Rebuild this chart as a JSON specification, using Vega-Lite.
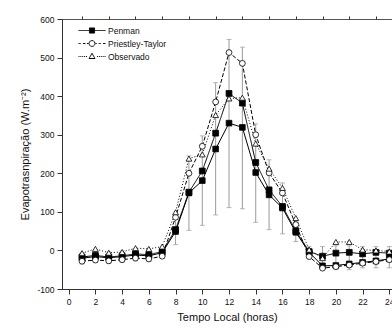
{
  "$schema": "https://vega.github.io/schema/vega-lite/v6.json",
  "width": 330,
  "height": 270,
  "autosize": {"type": "none"},
  "padding": {"left": 62, "top": 19, "right": 0, "bottom": 40},
  "background": "white",
  "config": {
    "font": "Liberation Sans",
    "view": {"stroke": "#555", "strokeWidth": 1},
    "axis": {
      "grid": false,
      "domainColor": "#333",
      "tickColor": "#333",
      "labelColor": "#111",
      "titleColor": "#111",
      "labelFont": "Liberation Sans",
      "titleFont": "Liberation Sans",
      "labelFontSize": 8.5,
      "titleFontSize": 11,
      "titleFontWeight": "normal",
      "labelFlush": false,
      "labelOverlap": false
    }
  },
  "resolve": {"axis": {"x": "independent", "y": "independent"}},
  "datasets": {
    "main": [
      {"hour": 1, "serie": "Penman", "value": -17},
      {"hour": 2, "serie": "Penman", "value": -13},
      {"hour": 3, "serie": "Penman", "value": -17},
      {"hour": 4, "serie": "Penman", "value": -14},
      {"hour": 5, "serie": "Penman", "value": -9},
      {"hour": 6, "serie": "Penman", "value": -11},
      {"hour": 7, "serie": "Penman", "value": -3},
      {"hour": 8, "serie": "Penman", "value": 54},
      {"hour": 9, "serie": "Penman", "value": 151},
      {"hour": 10, "serie": "Penman", "value": 206},
      {"hour": 11, "serie": "Penman", "value": 304},
      {"hour": 12, "serie": "Penman", "value": 407},
      {"hour": 13, "serie": "Penman", "value": 382},
      {"hour": 14, "serie": "Penman", "value": 228},
      {"hour": 15, "serie": "Penman", "value": 157},
      {"hour": 16, "serie": "Penman", "value": 114},
      {"hour": 17, "serie": "Penman", "value": 51},
      {"hour": 18, "serie": "Penman", "value": -3},
      {"hour": 19, "serie": "Penman", "value": -15},
      {"hour": 20, "serie": "Penman", "value": -7},
      {"hour": 21, "serie": "Penman", "value": -5},
      {"hour": 22, "serie": "Penman", "value": -9},
      {"hour": 23, "serie": "Penman", "value": -5},
      {"hour": 24, "serie": "Penman", "value": -7},
      {"hour": 1, "serie": "Priestley-Taylor", "value": -28},
      {"hour": 2, "serie": "Priestley-Taylor", "value": -25},
      {"hour": 3, "serie": "Priestley-Taylor", "value": -27},
      {"hour": 4, "serie": "Priestley-Taylor", "value": -24},
      {"hour": 5, "serie": "Priestley-Taylor", "value": -20},
      {"hour": 6, "serie": "Priestley-Taylor", "value": -22},
      {"hour": 7, "serie": "Priestley-Taylor", "value": -15},
      {"hour": 8, "serie": "Priestley-Taylor", "value": 86},
      {"hour": 9, "serie": "Priestley-Taylor", "value": 200},
      {"hour": 10, "serie": "Priestley-Taylor", "value": 270},
      {"hour": 11, "serie": "Priestley-Taylor", "value": 385},
      {"hour": 12, "serie": "Priestley-Taylor", "value": 513},
      {"hour": 13, "serie": "Priestley-Taylor", "value": 485},
      {"hour": 14, "serie": "Priestley-Taylor", "value": 300},
      {"hour": 15, "serie": "Priestley-Taylor", "value": 201},
      {"hour": 16, "serie": "Priestley-Taylor", "value": 149},
      {"hour": 17, "serie": "Priestley-Taylor", "value": 67},
      {"hour": 18, "serie": "Priestley-Taylor", "value": -16},
      {"hour": 19, "serie": "Priestley-Taylor", "value": -46},
      {"hour": 20, "serie": "Priestley-Taylor", "value": -42},
      {"hour": 21, "serie": "Priestley-Taylor", "value": -38},
      {"hour": 22, "serie": "Priestley-Taylor", "value": -33},
      {"hour": 23, "serie": "Priestley-Taylor", "value": -29},
      {"hour": 24, "serie": "Priestley-Taylor", "value": -24},
      {"hour": 1, "serie": "Observado", "value": -7},
      {"hour": 2, "serie": "Observado", "value": 4},
      {"hour": 3, "serie": "Observado", "value": -6},
      {"hour": 4, "serie": "Observado", "value": -4},
      {"hour": 5, "serie": "Observado", "value": 6},
      {"hour": 6, "serie": "Observado", "value": 4},
      {"hour": 7, "serie": "Observado", "value": 10},
      {"hour": 8, "serie": "Observado", "value": 99},
      {"hour": 9, "serie": "Observado", "value": 238},
      {"hour": 10, "serie": "Observado", "value": 249},
      {"hour": 11, "serie": "Observado", "value": 351},
      {"hour": 12, "serie": "Observado", "value": 394},
      {"hour": 13, "serie": "Observado", "value": 396},
      {"hour": 14, "serie": "Observado", "value": 277},
      {"hour": 15, "serie": "Observado", "value": 212},
      {"hour": 16, "serie": "Observado", "value": 162},
      {"hour": 17, "serie": "Observado", "value": 84},
      {"hour": 18, "serie": "Observado", "value": 2},
      {"hour": 19, "serie": "Observado", "value": -20},
      {"hour": 20, "serie": "Observado", "value": 22},
      {"hour": 21, "serie": "Observado", "value": 22},
      {"hour": 22, "serie": "Observado", "value": 2},
      {"hour": 23, "serie": "Observado", "value": 0},
      {"hour": 24, "serie": "Observado", "value": -3}
    ],
    "pen2": [
      {"hour": 1, "value": -20, "lo": -35, "hi": -5},
      {"hour": 2, "value": -16, "lo": -31, "hi": -1},
      {"hour": 3, "value": -19, "lo": -34, "hi": -4},
      {"hour": 4, "value": -16, "lo": -31, "hi": -1},
      {"hour": 5, "value": -12, "lo": -27, "hi": 3},
      {"hour": 6, "value": -14, "lo": -29, "hi": 1},
      {"hour": 7, "value": -6, "lo": -21, "hi": 9},
      {"hour": 8, "value": 49, "lo": 15, "hi": 85},
      {"hour": 9, "value": 149, "lo": 52, "hi": 245},
      {"hour": 10, "value": 181, "lo": 65, "hi": 297},
      {"hour": 11, "value": 263, "lo": 92, "hi": 435},
      {"hour": 12, "value": 330, "lo": 111, "hi": 547},
      {"hour": 13, "value": 319, "lo": 108, "hi": 527},
      {"hour": 14, "value": 202, "lo": 73, "hi": 328},
      {"hour": 15, "value": 144, "lo": 54, "hi": 235},
      {"hour": 16, "value": 110, "lo": 43, "hi": 175},
      {"hour": 17, "value": 47, "lo": 23, "hi": 73},
      {"hour": 18, "value": -5, "lo": -20, "hi": 10},
      {"hour": 19, "value": -40, "lo": -50, "hi": 10},
      {"hour": 20, "value": -39, "lo": -50, "hi": 12},
      {"hour": 21, "value": -35, "lo": -50, "hi": 12},
      {"hour": 22, "value": -31, "lo": -45, "hi": 10},
      {"hour": 23, "value": -27, "lo": -45, "hi": 10},
      {"hour": 24, "value": -22, "lo": -45, "hi": 10}
    ]
  },
  "layer": [
    {
      "data": {"name": "pen2"},
      "mark": {"type": "errorbar", "color": "#9a9a9a", "ticks": {"size": 5, "color": "#9a9a9a"}, "rule": {"color": "#9a9a9a", "strokeWidth": 1}},
      "encoding": {
        "x": {
          "field": "hour", "type": "quantitative",
          "scale": {"domain": [-0.5, 24.2], "nice": false, "zero": false},
          "title": "Tempo Local (horas)",
          "axis": {
            "values": [0,2,4,6,8,10,12,14,16,18,20,22,24],
            "labelExpr": "'' + datum.value",
            "tickSize": 5,
            "labelOverlap": false,
            "labelFlush": false,
            "labelPadding": 3,
            "titlePadding": 6
          }
        },
        "y": {
          "field": "lo", "type": "quantitative",
          "scale": {"domain": [-100, 600], "nice": false, "zero": false},
          "title": "Evapotrasnpiração (W.m⁻²)",
          "axis": {
            "values": [-100,0,100,200,300,400,500,600],
            "labelExpr": "'' + datum.value",
            "tickSize": 5,
            "labelOverlap": false,
            "labelFlush": false,
            "labelPadding": 3,
            "titlePadding": 6
          }
        },
        "y2": {"field": "hi"}
      }
    },
    {
      "data": {"name": "pen2"},
      "mark": {"type": "line", "color": "black", "strokeWidth": 1},
      "encoding": {
        "x": {
          "field": "hour", "type": "quantitative",
          "axis": {"values": [1,3,5,7,9,11,13,15,17,19,21,23], "labels": false, "domain": false, "tickSize": 3, "title": null}
        },
        "y": {
          "field": "value", "type": "quantitative",
          "axis": {"values": [-50,50,150,250,350,450,550], "labels": false, "domain": false, "tickSize": 3, "title": null}
        }
      }
    },
    {
      "data": {"name": "main"},
      "mark": {"type": "line", "strokeWidth": 1},
      "encoding": {
        "x": {"field": "hour", "type": "quantitative", "axis": null},
        "y": {"field": "value", "type": "quantitative", "axis": null},
        "strokeDash": {
          "field": "serie", "type": "nominal",
          "scale": {"domain": ["Observado", "Penman", "Priestley-Taylor"], "range": [[1, 2], [1, 0], [4, 2]]},
          "legend": null
        },
        "color": {
          "field": "serie", "type": "nominal",
          "scale": {"domain": ["Penman", "Priestley-Taylor", "Observado"], "range": ["black", "black", "black"]},
          "legend": {
            "title": null,
            "orient": "none",
            "legendX": 16,
            "legendY": 5,
            "symbolSize": 729,
            "clipHeight": 13,
            "rowPadding": 0,
            "labelOffset": 2,
            "labelFont": "Liberation Sans",
            "labelFontSize": 8.5,
            "labelColor": "#111",
            "symbolStrokeWidth": 1,
            "encode": {
              "symbols": {
                "update": {
                  "shape": {"signal": "datum.value === 'Penman' ? 'M-1,0H-0.19M0.19,0H1M-0.19,-0.19H0.19V0.19H-0.19Z' : datum.value === 'Priestley-Taylor' ? 'M-1,0H-0.82M-0.67,0H-0.49M-0.37,0H-0.26M0.26,0H0.37M0.49,0H0.67M0.82,0H1M0.22,0L0.191,0.11L0.11,0.191L0,0.22L-0.11,0.191L-0.191,0.11L-0.22,0L-0.191,-0.11L-0.11,-0.191L0,-0.22L0.11,-0.191L0.191,-0.11Z' : 'M-1,0H-0.93M-0.86,0H-0.79M-0.72,0H-0.65M-0.58,0H-0.51M-0.44,0H-0.37M0.37,0H0.44M0.51,0H0.58M0.65,0H0.72M0.79,0H0.86M0.93,0H1M0,-0.24L0.22,0.15L-0.22,0.15Z'"},
                  "fill": {"signal": "datum.value === 'Penman' ? 'black' : 'white'"},
                  "strokeDash": {"value": [1, 0]},
                  "strokeWidth": {"value": 1},
                  "opacity": {"value": 1}
                }
              }
            }
          }
        }
      }
    },
    {
      "data": {"name": "pen2"},
      "mark": {"type": "point", "shape": "square", "filled": true, "fill": "black", "stroke": "black", "strokeWidth": 0.8, "size": 32, "opacity": 1},
      "encoding": {
        "x": {"field": "hour", "type": "quantitative", "axis": null},
        "y": {"field": "value", "type": "quantitative", "axis": null}
      }
    },
    {
      "data": {"name": "main"},
      "mark": {"type": "point", "filled": true, "stroke": "black", "strokeWidth": 0.8, "size": 34, "opacity": 1},
      "encoding": {
        "x": {"field": "hour", "type": "quantitative", "axis": null},
        "y": {"field": "value", "type": "quantitative", "axis": null},
        "shape": {
          "field": "serie", "type": "nominal",
          "scale": {"domain": ["Priestley-Taylor", "Observado", "Penman"], "range": ["circle", "triangle-up", "square"]},
          "legend": null
        },
        "fill": {
          "field": "serie", "type": "nominal",
          "scale": {"domain": ["Observado", "Priestley-Taylor", "Penman"], "range": ["white", "white", "black"]},
          "legend": null
        }
      }
    }
  ]
}
